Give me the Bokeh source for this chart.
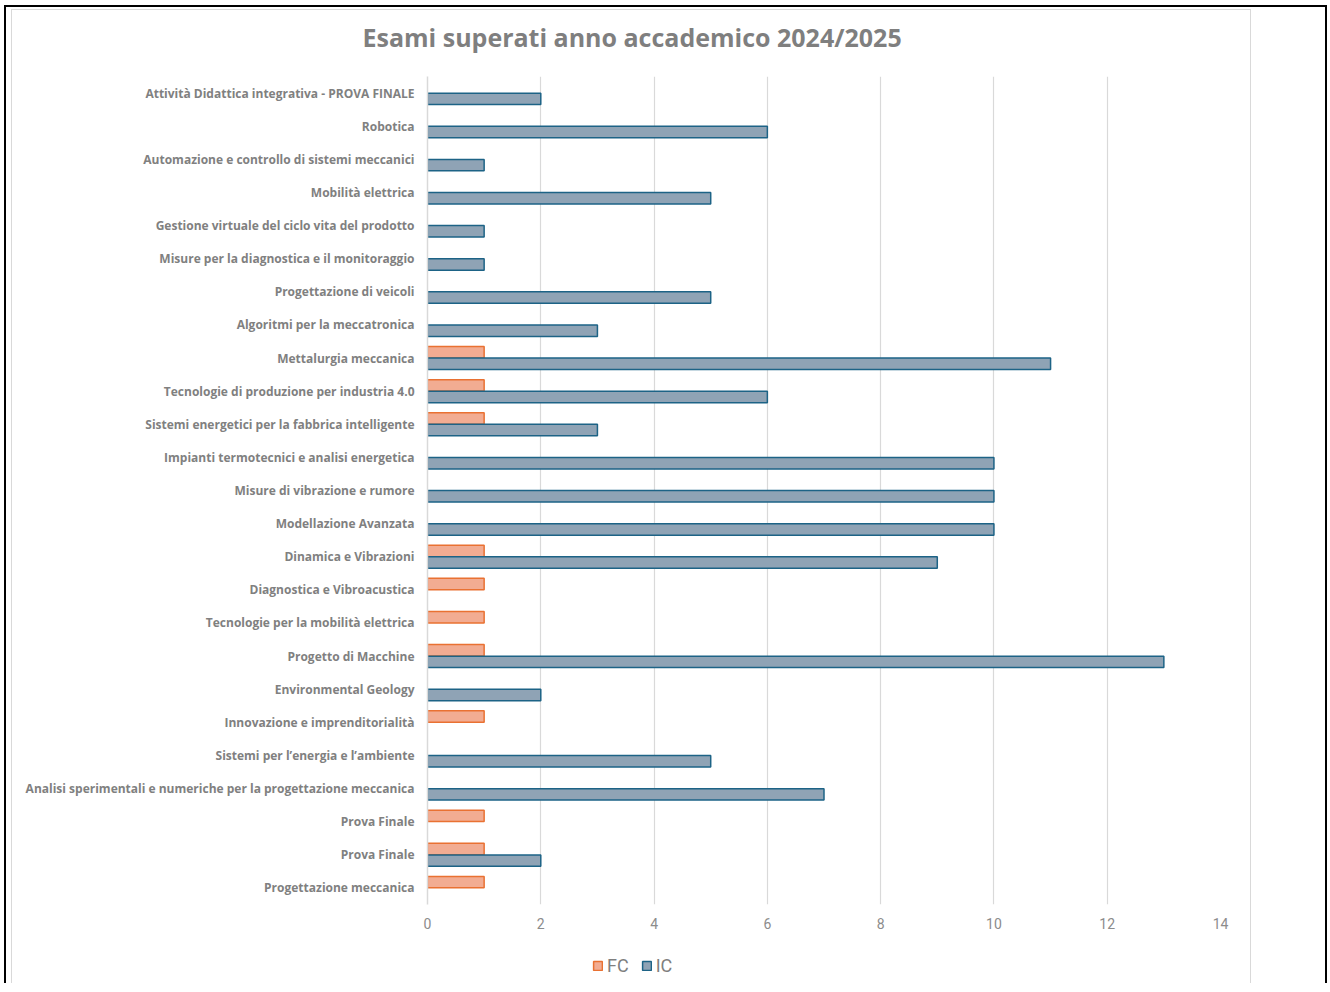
from bokeh.plotting import figure
from bokeh.models import (ColumnDataSource, FixedTicker, Title, Legend, LegendItem,
                          Range1d, Column)
from bokeh.embed import file_html
from bokeh.resources import INLINE

# ---- data (top to bottom as displayed) ----
courses = [
    "Attività Didattica integrativa - PROVA FINALE",
    "Robotica",
    "Automazione e controllo di sistemi meccanici",
    "Mobilità elettrica",
    "Gestione virtuale del ciclo vita del prodotto",
    "Misure per la diagnostica e il monitoraggio",
    "Progettazione di veicoli",
    "Algoritmi per la meccatronica",
    "Mettalurgia meccanica",
    "Tecnologie di produzione per industria 4.0",
    "Sistemi energetici per la fabbrica intelligente",
    "Impianti termotecnici e analisi energetica",
    "Misure di vibrazione e rumore",
    "Modellazione Avanzata",
    "Dinamica e Vibrazioni",
    "Diagnostica e Vibroacustica",
    "Tecnologie per la mobilità elettrica",
    "Progetto di Macchine",
    "Environmental Geology",
    "Innovazione e imprenditorialità",
    "Sistemi per l’energia e l’ambiente",
    "Analisi sperimentali e numeriche per la progettazione meccanica",
    "Prova Finale",
    "Prova Finale",
    "Progettazione meccanica",
]
fc_values = [0, 0, 0, 0, 0, 0, 0, 0, 1, 1, 1, 0, 0, 0, 1, 1, 1, 1, 0, 1, 0, 0, 1, 1, 1]
ic_values = [2, 6, 1, 5, 1, 1, 5, 3, 11, 6, 3, 10, 10, 10, 9, 0, 0, 13, 2, 0, 5, 7, 0, 2, 0]
series_names = ["FC", "IC"]
x_ticks = [0, 2, 4, 6, 8, 10, 12, 14]
title_text = "Esami superati anno accademico 2024/2025"

FC_FILL, FC_LINE = "#F2AC92", "#E97132"
IC_FILL, IC_LINE = "#8FA3B5", "#1D6386"
GREY_BORDER = "1px solid #d9d9d9"

n = len(courses)
# position index: first displayed course at top
pos = [n - 1 - i for i in range(n)]

BAR_H = 0.345
OFF = 0.175

fc_src = ColumnDataSource(dict(
    y=[p_ + OFF for p_, v in zip(pos, fc_values) if v > 0],
    right=[v for v in fc_values if v > 0],
))
ic_src = ColumnDataSource(dict(
    y=[p_ - OFF for p_, v in zip(pos, ic_values) if v > 0],
    right=[v for v in ic_values if v > 0],
))

# ---- title strip ----
tf = figure(width=1240, height=67, output_backend="svg", toolbar_location=None,
            x_axis_location=None, y_axis_location=None,
            min_border_left=0, min_border_right=0, min_border_bottom=0,
            min_border_top=43, title=None)
tf.outline_line_color = None
tf.grid.grid_line_color = None
tf.border_fill_color = "white"
tf.styles = {"border-top": GREY_BORDER, "border-left": GREY_BORDER,
             "border-right": GREY_BORDER}
tf.add_layout(Title(text=title_text, align="left", offset=-65, standoff=0,
                    text_font="Open Sans", text_font_style="bold",
                    text_font_size="25px", text_color="#7F7F7F"), "above")

# ---- main chart ----
p = figure(width=1240, height=868, output_backend="svg", toolbar_location=None,
           x_range=Range1d(0, 14), y_range=Range1d(-0.5, n - 0.5),
           min_border_left=415, min_border_right=32, min_border_top=0,
           min_border_bottom=40, title=None)
p.background_fill_color = "white"
p.border_fill_color = "white"
p.outline_line_color = None
p.styles = {"border-left": GREY_BORDER, "border-right": GREY_BORDER}

r_fc = p.hbar(y="y", right="right", left=0, height=BAR_H, source=fc_src,
              fill_color=FC_FILL, line_color=FC_LINE, line_width=1.5)
r_ic = p.hbar(y="y", right="right", left=0, height=BAR_H, source=ic_src,
              fill_color=IC_FILL, line_color=IC_LINE, line_width=1.5)

p.xaxis.ticker = FixedTicker(ticks=x_ticks)
p.xaxis.axis_line_color = None
p.xaxis.major_tick_line_color = None
p.xaxis.minor_tick_line_color = None
p.xaxis.major_label_text_font = "Roboto"
p.xaxis.major_label_text_font_size = "14px"
p.xaxis.major_label_text_color = "#8C8C8C"
p.xaxis.major_label_standoff = 7

p.yaxis.ticker = FixedTicker(ticks=pos)
p.yaxis.major_label_overrides = {p_: c for p_, c in zip(pos, courses)}
p.yaxis.axis_line_color = "#D9D9D9"
p.yaxis.axis_line_width = 1.5
p.yaxis.major_tick_line_color = None
p.yaxis.minor_tick_line_color = None
p.yaxis.major_label_text_font = "Open Sans"
p.yaxis.major_label_text_font_style = "bold"
p.yaxis.major_label_text_font_size = "12px"
p.yaxis.major_label_text_color = "#808080"
p.yaxis.major_label_standoff = 7

p.xgrid.grid_line_color = "#D9D9D9"
p.xgrid.grid_line_width = 1.2
p.ygrid.grid_line_color = None

# ---- legend strip below the chart (its renderers are hidden; only the key shows) ----
lf = figure(width=1240, height=39, output_backend="svg", toolbar_location=None,
            x_axis_location=None, y_axis_location=None,
            x_range=Range1d(0, 14), y_range=Range1d(-0.5, n - 0.5),
            min_border=0, title=None)
lf.outline_line_color = None
lf.grid.grid_line_color = None
lf.border_fill_color = "white"
lf.background_fill_color = "white"
lf.styles = {"border-left": GREY_BORDER, "border-right": GREY_BORDER}
l_fc = lf.hbar(y="y", right="right", left=0, height=BAR_H, source=fc_src,
               fill_color=FC_FILL, line_color=FC_LINE, line_width=1.5, visible=False)
l_ic = lf.hbar(y="y", right="right", left=0, height=BAR_H, source=ic_src,
               fill_color=IC_FILL, line_color=IC_LINE, line_width=1.5, visible=False)
legend = Legend(items=[LegendItem(label=series_names[0], renderers=[l_fc]),
                       LegendItem(label=series_names[1], renderers=[l_ic])],
                orientation="horizontal", location=(165, 7),
                glyph_width=11, glyph_height=11, label_standoff=4, spacing=12,
                padding=0, margin=0, border_line_color=None,
                background_fill_alpha=0, inactive_fill_alpha=0,
                label_text_font="Roboto",
                label_text_font_size="18px", label_text_color="#7F7F7F")
lf.add_layout(legend, "center")

layout = Column(tf, p, lf, styles={"border": "2px solid black", "border-bottom": "none",
                                   "padding": "2px 74px 0px 5px",
                                   "margin-left": "4px", "margin-top": "5px"})

open("out.html", "w").write(file_html(layout, INLINE))
